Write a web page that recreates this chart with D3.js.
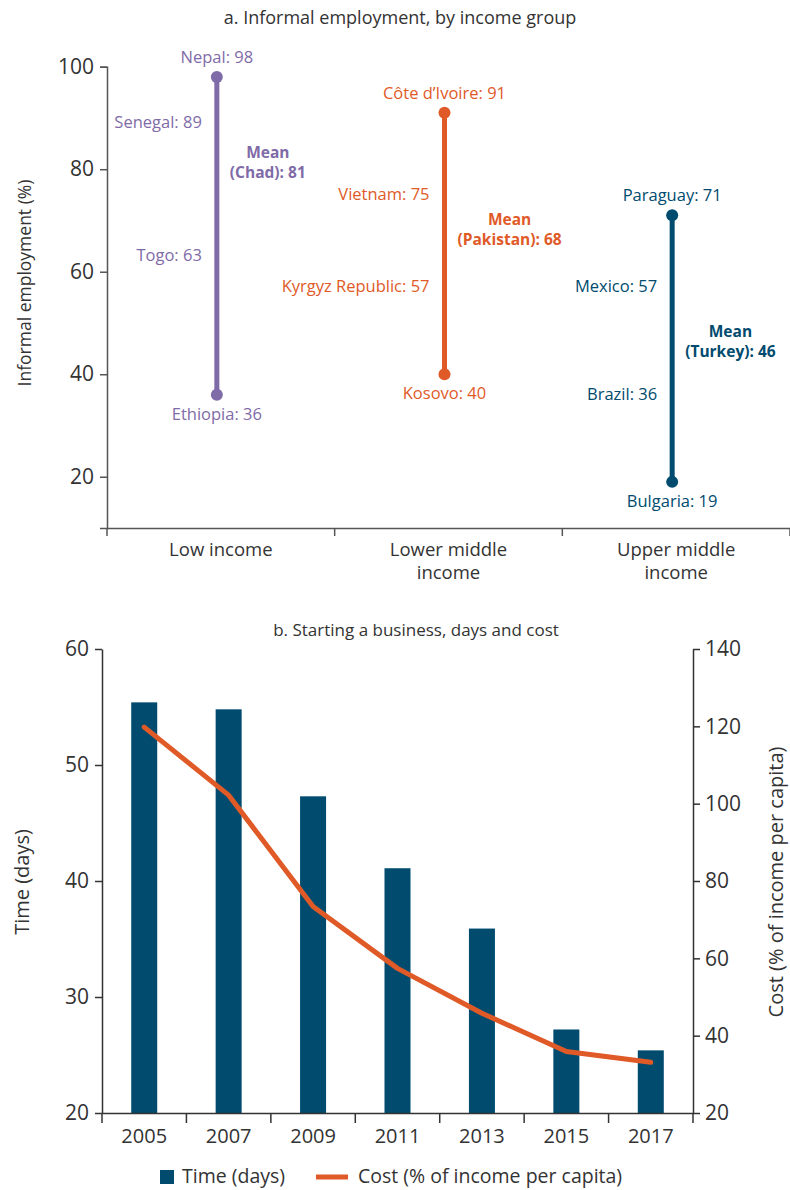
<!DOCTYPE html>
<html>
<head>
<meta charset="utf-8">
<script src="https://cdn.jsdelivr.net/npm/d3@7"></script>
<style>
  body { margin: 0; background: #fff; }
  svg { font-family: "Open Sans", sans-serif; }
</style>
</head>
<body>
<svg id="chart" width="790" height="1190"></svg>
<script>
// ---- panel a data ----
var groups = ["Low income", "Lower middle income", "Upper middle income"];
var groupLabelLines = [["Low income"], ["Lower middle", "income"], ["Upper middle", "income"]];
var groupColors = ["#7f6ba7", "#e05a28", "#004b6e"];
var maxCountry = ["Nepal", "Côte d’Ivoire", "Paraguay"];
var maxValue = [98, 91, 71];
var minCountry = ["Ethiopia", "Kosovo", "Bulgaria"];
var minValue = [36, 40, 19];
var meanCountry = ["Chad", "Pakistan", "Turkey"];
var meanValue = [81, 68, 46];
var upperCountry = ["Senegal", "Vietnam", "Mexico"];
var upperValue = [89, 75, 57];
var lowerCountry = ["Togo", "Kyrgyz Republic", "Brazil"];
var lowerValue = [63, 57, 36];
var aTicks = [20, 40, 60, 80, 100];

// ---- panel b data ----
var years = ["2005", "2007", "2009", "2011", "2013", "2015", "2017"];
var timeDays = [55.4, 54.8, 47.3, 41.1, 35.9, 27.2, 25.4];
var costPct = [119.8, 102.2, 73.4, 57.4, 45.8, 35.9, 33.1];
var timeTicks = [20, 30, 40, 50, 60];
var costTicks = [20, 40, 60, 80, 100, 120, 140];

var svg = d3.select("#chart");
var textCol = "#333";
var axisCol = "#555";

// ================= panel a =================
var a = svg.append("g");

a.append("text")
    .attr("x", 400).attr("y", 24)
    .attr("text-anchor", "middle")
    .style("font-size", "18px").style("fill", textCol)
    .text("a. Informal employment, by income group");

var xA = d3.scaleBand().domain(groups).range([107, 790]).padding(0);
var yA = d3.scaleLinear().domain([10, 100]).range([528, 66.7]);

// y axis
a.append("g")
    .attr("transform", "translate(107,0)")
    .call(d3.axisLeft(yA).tickValues(aTicks).tickSize(7).tickPadding(6))
    .call(function (g) {
        g.select(".domain").attr("stroke", axisCol).attr("stroke-width", 1.5);
        g.selectAll(".tick line").attr("stroke", axisCol).attr("stroke-width", 1.5);
        g.selectAll(".tick text").style("font-size", "21px").style("fill", textCol)
            .style("font-family", "Open Sans");
    });

// x axis line with boundary ticks
a.append("g")
    .attr("transform", "translate(0,528)")
    .call(d3.axisBottom(xA).tickSize(0).tickFormat(""))
    .call(function (g) {
        g.select(".domain").attr("stroke", axisCol).attr("stroke-width", 1.5);
    });
var edges = groups.map(function (d) { return xA(d); }).concat([xA.range()[1]]);
a.selectAll(".edge")
    .data(edges).enter().append("line")
    .attr("x1", function (d) { return d; }).attr("x2", function (d) { return d; })
    .attr("y1", 528).attr("y2", 536)
    .attr("stroke", axisCol).attr("stroke-width", 1.5);

// category labels, one text per line
groups.forEach(function (grp, i) {
    groupLabelLines[i].forEach(function (ln, j) {
        a.append("text")
            .attr("x", xA(grp) + xA.bandwidth() / 2)
            .attr("y", 556 + j * 23)
            .attr("text-anchor", "middle")
            .style("font-size", "18.5px").style("fill", textCol)
            .text(ln);
    });
});

a.append("text")
    .attr("transform", "translate(31,283) rotate(-90)")
    .attr("text-anchor", "middle")
    .style("font-size", "17.5px").style("fill", textCol)
    .text("Informal employment (%)");

// range lines
groups.forEach(function (grp, i) {
    var cx = xA(grp) + xA.bandwidth() / 2 - 4;
    var col = groupColors[i];
    var g = a.append("g").style("fill", col);

    g.append("line")
        .attr("x1", cx).attr("x2", cx)
        .attr("y1", yA(maxValue[i])).attr("y2", yA(minValue[i]))
        .attr("stroke", col).attr("stroke-width", 5);
    g.append("circle").attr("cx", cx).attr("cy", yA(maxValue[i])).attr("r", 6);
    g.append("circle").attr("cx", cx).attr("cy", yA(minValue[i])).attr("r", 6);

    g.append("text")
        .attr("x", cx).attr("y", yA(maxValue[i]) - 14)
        .attr("text-anchor", "middle").style("font-size", "16.5px")
        .text(maxCountry[i] + ": " + maxValue[i]);
    g.append("text")
        .attr("x", cx).attr("y", yA(minValue[i]) + 25)
        .attr("text-anchor", "middle").style("font-size", "16.5px")
        .text(minCountry[i] + ": " + minValue[i]);
    g.append("text")
        .attr("x", cx - 15).attr("y", yA(upperValue[i]) + 5)
        .attr("text-anchor", "end").style("font-size", "16.5px")
        .text(upperCountry[i] + ": " + upperValue[i]);
    g.append("text")
        .attr("x", cx - 15).attr("y", yA(lowerValue[i]) + 5)
        .attr("text-anchor", "end").style("font-size", "16.5px")
        .text(lowerCountry[i] + ": " + lowerValue[i]);

    // bold mean label, two lines
    var m = g.append("text")
        .attr("text-anchor", "middle")
        .style("font-size", "15.5px").style("font-weight", "bold");
    m.append("tspan").attr("x", 0).attr("y", yA(meanValue[i]) - 6).text("Mean");
    var second = m.append("tspan").attr("x", 0).attr("y", yA(meanValue[i]) + 14)
        .text("(" + meanCountry[i] + "): " + meanValue[i]);
    var w = second.node().getComputedTextLength();
    m.attr("transform", "translate(" + (cx + 13 + w / 2) + ",0)");
});

// ================= panel b =================
var b = svg.append("g");

b.append("text")
    .attr("x", 416).attr("y", 636)
    .attr("text-anchor", "middle")
    .style("font-size", "17px").style("fill", textCol)
    .text("b. Starting a business, days and cost");

var xB = d3.scaleBand().domain(years).range([102, 693]).padding(0);
var yLeft = d3.scaleLinear().domain([20, 60]).range([1113, 649]);
var yRight = d3.scaleLinear().domain([20, 140]).range([1113, 649]);
var barW = 26;

b.selectAll(".bar")
    .data(years).enter().append("rect")
    .attr("class", "bar")
    .attr("x", function (d) { return xB(d) + xB.bandwidth() / 2 - barW / 2; })
    .attr("width", barW)
    .attr("y", function (d, i) { return yLeft(timeDays[i]); })
    .attr("height", function (d, i) { return yLeft(20) - yLeft(timeDays[i]); })
    .attr("fill", "#004b6e");

var costLine = d3.line()
    .x(function (d, i) { return xB(years[i]) + xB.bandwidth() / 2; })
    .y(function (d) { return yRight(d); });

b.append("path")
    .datum(costPct)
    .attr("d", costLine)
    .attr("fill", "none")
    .attr("stroke", "#e05a28")
    .attr("stroke-width", 5)
    .attr("stroke-linecap", "round")
    .attr("stroke-linejoin", "round");

function styleAxis(g) {
    g.select(".domain").attr("stroke", textCol).attr("stroke-width", 1.5);
    g.selectAll(".tick line").attr("stroke", textCol).attr("stroke-width", 1.5);
    g.selectAll(".tick text").style("font-size", "21px").style("fill", textCol)
        .style("font-family", "Open Sans");
}

b.append("g")
    .attr("transform", "translate(102,0)")
    .call(d3.axisLeft(yLeft).tickValues(timeTicks).tickSize(7).tickPadding(6).tickSizeOuter(0))
    .call(styleAxis);

b.append("g")
    .attr("transform", "translate(693,0)")
    .call(d3.axisRight(yRight).tickValues(costTicks).tickSize(7).tickPadding(5).tickSizeOuter(0))
    .call(styleAxis);

b.append("g")
    .attr("transform", "translate(0,1113)")
    .call(d3.axisBottom(xB).tickSize(0).tickPadding(16).tickSizeOuter(0))
    .call(styleAxis)
    .call(function (g) { g.selectAll(".tick text").style("font-size", "20px"); });

var bEdges = years.map(function (d) { return xB(d); }).concat([xB.range()[1]]);
b.selectAll(".bedge")
    .data(bEdges).enter().append("line")
    .attr("x1", function (d) { return d; }).attr("x2", function (d) { return d; })
    .attr("y1", 1113).attr("y2", 1123)
    .attr("stroke", textCol).attr("stroke-width", 1.5);

b.append("text")
    .attr("transform", "translate(29,882) rotate(-90)")
    .attr("text-anchor", "middle")
    .style("font-size", "20px").style("fill", textCol)
    .text("Time (days)");

b.append("text")
    .attr("transform", "translate(783,882) rotate(-90)")
    .attr("text-anchor", "middle")
    .style("font-size", "20px").style("fill", textCol)
    .text("Cost (% of income per capita)");

// legend
var leg = b.append("g").attr("transform", "translate(0,1177)");
leg.append("rect").attr("x", 160).attr("y", -7).attr("width", 14).attr("height", 14)
    .attr("fill", "#004b6e");
leg.append("text").attr("x", 182).attr("y", 6)
    .style("font-size", "19.5px").style("fill", textCol).text("Time (days)");
leg.append("line").attr("x1", 316).attr("x2", 348).attr("y1", 0).attr("y2", 0)
    .attr("stroke", "#e05a28").attr("stroke-width", 5);
leg.append("text").attr("x", 358).attr("y", 6)
    .style("font-size", "19.5px").style("fill", textCol).text("Cost (% of income per capita)");
</script>
</body>
</html>
